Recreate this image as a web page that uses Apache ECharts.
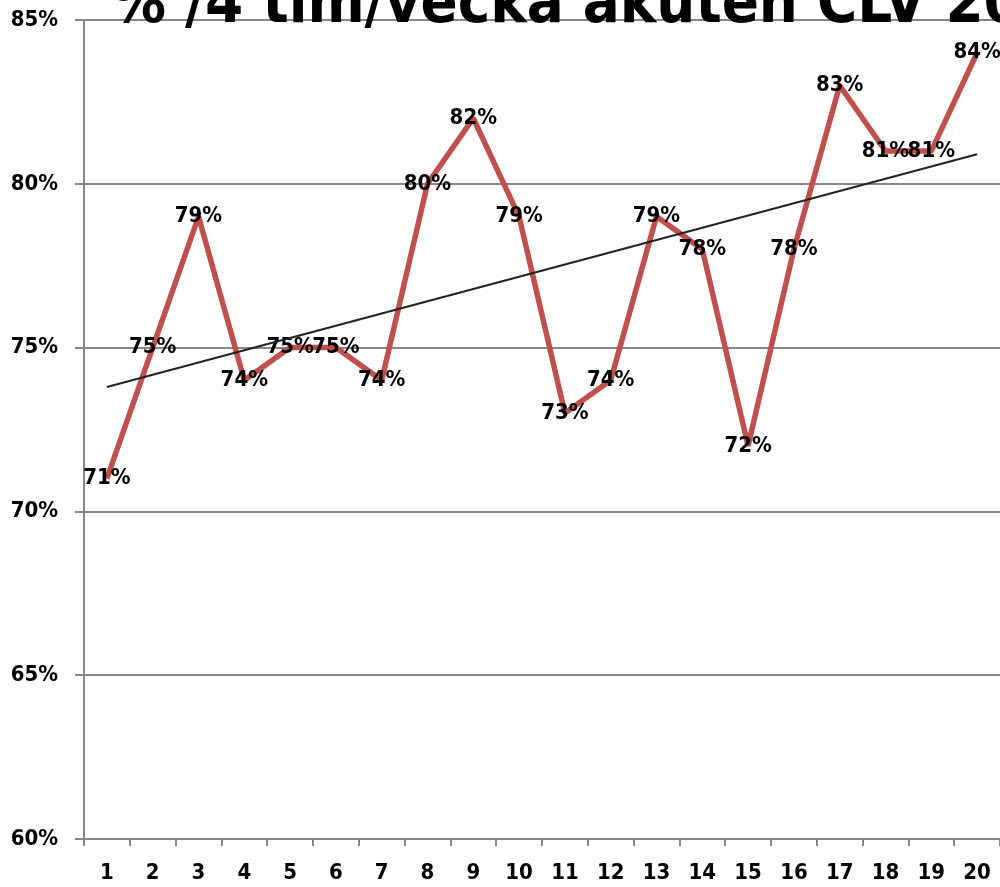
<!DOCTYPE html>
<html>
<head>
<meta charset="utf-8">
<script src="https://cdn.jsdelivr.net/npm/echarts@6/dist/echarts.min.js"></script>
<style>
html,body{margin:0;padding:0;background:#fff;}
#chart{width:1000px;height:887px;}
</style>
</head>
<body>
<div id="chart"></div>
<script>
const titleText = '% /4 tim/vecka akuten CLV 20';
const categories = ['1','2','3','4','5','6','7','8','9','10','11','12','13','14','15','16','17','18','19','20'];
const values = [71,75,79,74,75,75,74,80,82,79,73,74,79,78,72,78,83,81,81,84];
const trendCategories = ['1','20'];
const trendValues = [73.8,80.9];
const yTicks = {min:60, max:85, interval:5};

const FONT = "'DejaVu Sans Condensed','Liberation Sans Narrow','DejaVu Sans',sans-serif";
const GREY = '#878787';

const chart = echarts.init(document.getElementById('chart'));
chart.setOption({
  animation:false,
  backgroundColor:'#ffffff',
  title:{
    text:titleText,
    left:106, top:-29,
    textStyle:{fontFamily:FONT, fontWeight:'bold', fontSize:61, color:'#000'}
  },
  grid:{left:84, right:0, top:20, bottom:48},
  xAxis:{
    type:'category',
    data:categories,
    boundaryGap:true,
    axisLine:{show:true, lineStyle:{color:GREY, width:2}},
    axisTick:{show:true, length:7, lineStyle:{color:GREY, width:2}},
    axisLabel:{margin:23, color:'#000', fontFamily:FONT, fontWeight:'bold', fontSize:22},
    splitLine:{show:false}
  },
  yAxis:{
    type:'value',
    min:yTicks.min, max:yTicks.max, interval:yTicks.interval,
    axisLine:{show:true, lineStyle:{color:GREY, width:2}},
    axisTick:{show:true, length:9, lineStyle:{color:GREY, width:2}},
    axisLabel:{margin:26, color:'#000', fontFamily:FONT, fontWeight:'bold', fontSize:22, formatter:'{value}%'},
    splitLine:{show:true, lineStyle:{color:GREY, width:2}}
  },
  series:[
    {
      type:'line',
      data:values,
      z:2,
      symbol:'circle', symbolSize:0.1, showSymbol:true,
      lineStyle:{color:'#C0504D', width:5.5},
      itemStyle:{color:'#C0504D'},
      label:{show:true, position:'inside', formatter:'{c}%', color:'#000', fontFamily:FONT, fontWeight:'bold', fontSize:22}
    },
    {
      type:'line',
      data:[[trendCategories[0],trendValues[0]],[trendCategories[1],trendValues[1]]],
      z:3,
      symbol:'none',
      lineStyle:{color:'#222', width:2},
      silent:true
    }
  ]
});
</script>
</body>
</html>
